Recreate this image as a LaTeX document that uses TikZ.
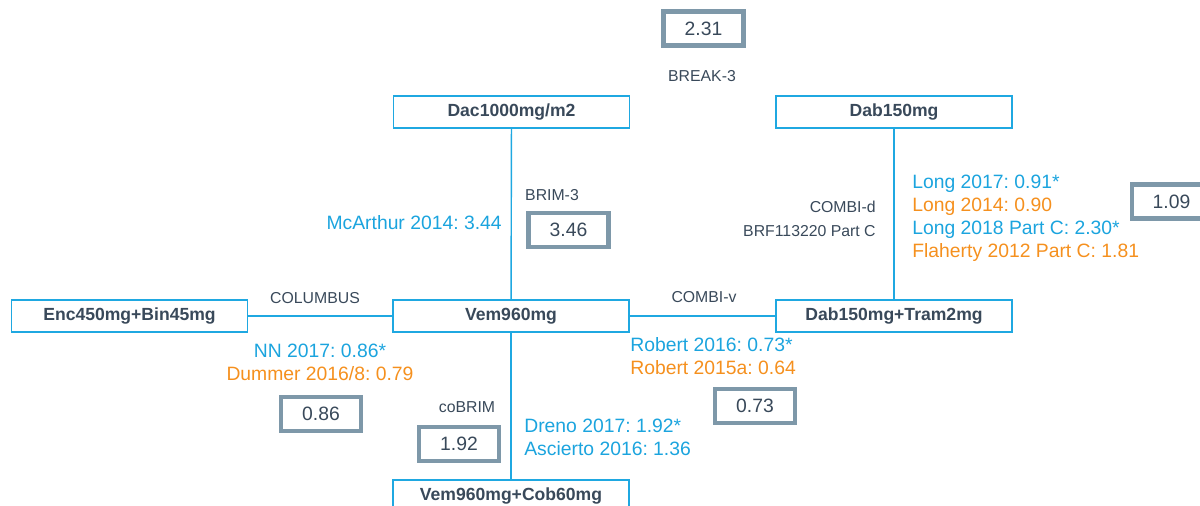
\documentclass[tikz,border=0pt]{standalone}
\usepackage{fontspec}
\setmainfont{Liberation Sans}
\usepackage{xcolor}
\usetikzlibrary{positioning}
\definecolor{linkblue}{HTML}{1FA8E1}
\definecolor{slate}{HTML}{39495A}
\definecolor{valgray}{HTML}{7E98A9}
\definecolor{refblue}{HTML}{1BA4DE}
\definecolor{reforange}{HTML}{F5901E}
\frenchspacing

\begin{document}
\begin{tikzpicture}[
    x=0.02cm, y=-0.02cm,
    trt/.style={draw=linkblue, line width=1pt, fill=white, minimum width=4.72cm, minimum height=0.65cm, inner sep=0pt, align=center, text=slate, font=\fontsize{10}{12}\selectfont\bfseries},
    val/.style={draw=valgray, line width=2.3pt, fill=white, minimum width=1.6cm, minimum height=0.68cm, inner sep=0pt, text=slate, font=\fontsize{11}{13}\selectfont},
    trial/.style={inner sep=0pt, text=slate, font=\fontsize{9}{11}\selectfont},
    cite/.style={inner sep=0pt, font=\fontsize{11}{13}\selectfont},
    link/.style={draw=linkblue, line width=0.8pt}
]
    \useasboundingbox (0,0) rectangle (1200,506);

    % Treatments
    \node[trt] (dac) at (511.5,112) {Dac1000mg/m2};
    \node[trt] (dab) at (894,112) {Dab150mg};
    \node[trt] (enc) at (129.5,316) {Enc450mg+Bin45mg};
    \node[trt] (vem) at (511,316) {Vem960mg};
    \node[trt] (dabtram) at (894,316) {Dab150mg+Tram2mg};
    \node[trt] (vemcob) at (511,496) {Vem960mg+Cob60mg};

    \draw[link] (dac) -- (vem); \draw[link] (dab) -- (dabtram); \draw[link] (enc) -- (vem); \draw[link] (vem) -- (dabtram); \draw[link] (vem) -- (vemcob);

    % Trials
    \node[trial, anchor=base] (break3) at (702,81.7) {BREAK-3};
    \node[trial, anchor=base] (brim3) at (552,200.7) {BRIM-3};
    \node[trial, anchor=base east] (combid) at (876,212.7) {COMBI-d};
    \node[trial, anchor=base east] (brf) at (876,236.7) {BRF113220 Part C};
    \node[trial, anchor=base] (columbus) at (315,303.7) {COLUMBUS};
    \node[trial, anchor=base] (combiv) at (704,302.7) {COMBI-v};
    \node[trial, anchor=base] (cobrim) at (467,412.7) {coBRIM};

    % Values
    \node[val] (v231) at (703.5,28.5) {2.31};
    \node[val] (v346) at (568.5,230) {3.46};
    \node[val] (v109) at (1171.5,201.5) {1.09};
    \node[val] (v086) at (321,414) {0.86};
    \node[val] (v192) at (459,444) {1.92};
    \node[val] (v073) at (755,406) {0.73};

    % Publications
    \node[cite, text=refblue, anchor=base east] (mcarthur) at (502,229.9) {McArthur 2014: 3.44};
    \node[cite, text=refblue, anchor=base west] (long17) at (912,188.9) {Long 2017: 0.91*};
    \node[cite, text=reforange, anchor=base west] (long14) at (912,211.9) {Long 2014: 0.90};
    \node[cite, text=refblue, anchor=base west] (long18) at (912,234.9) {Long 2018 Part C: 2.30*};
    \node[cite, text=reforange, anchor=base west] (flaherty) at (912,257.9) {Flaherty 2012 Part C: 1.81};
    \node[cite, text=refblue, anchor=base] (nn17) at (320,357.9) {NN 2017: 0.86*};
    \node[cite, text=reforange, anchor=base] (dummer) at (320,380.9) {Dummer 2016/8: 0.79};
    \node[cite, text=refblue, anchor=base west] (robert16) at (630,351.9) {Robert 2016: 0.73*};
    \node[cite, text=reforange, anchor=base west] (robert15) at (630,374.9) {Robert 2015a: 0.64};
    \node[cite, text=refblue, anchor=base west] (dreno) at (524,432.9) {Dreno 2017: 1.92*};
    \node[cite, text=refblue, anchor=base west] (ascierto) at (524,455.9) {Ascierto 2016: 1.36};
\end{tikzpicture}
\end{document}
